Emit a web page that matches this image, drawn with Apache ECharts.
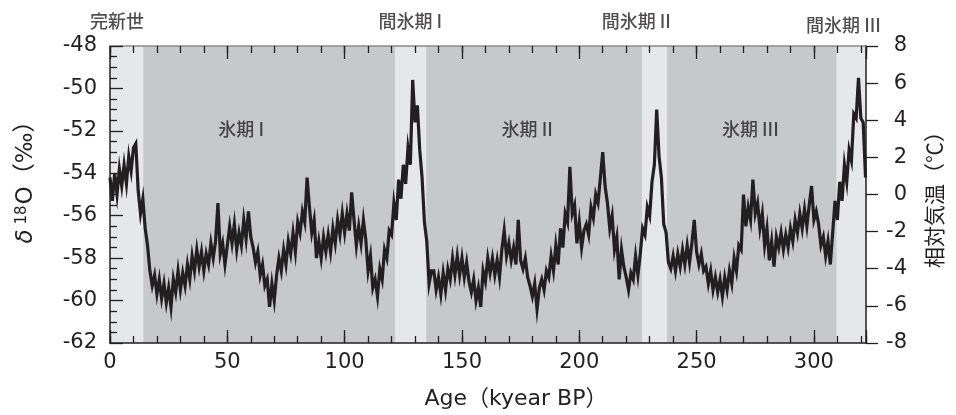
<!DOCTYPE html>
<html>
<head>
<meta charset="utf-8">
<script src="https://cdn.jsdelivr.net/npm/echarts@6/dist/echarts.min.js"></script>
<style>
  html, body { margin: 0; padding: 0; background: #fff; }
  #chart { width: 956px; height: 415px; }
</style>
</head>
<body>
<div id="chart"></div>
<script>
// δ18O (‰), one value per kyr from 0 kyear BP
const d18O = [
  -54.2, -55.3, -54.0, -55.0, -53.8, -54.6, -53.6, -54.5, -53.2, -53.9,
  -52.8, -52.6, -54.8, -55.9, -55.2, -56.6, -57.4, -58.6, -59.3, -58.8,
  -59.7, -59.0, -59.9, -59.2, -60.1, -59.4, -60.3, -59.0, -59.6, -58.6,
  -59.5, -58.7, -59.3, -58.3, -59.0, -57.9, -58.6, -57.6, -58.4, -57.7,
  -58.6, -57.8, -58.3, -57.3, -58.0, -57.2, -55.4, -57.8, -57.3, -58.3,
  -57.4, -56.5, -57.3, -56.4, -57.6, -56.8, -57.4, -56.2, -57.1, -55.8,
  -57.0, -57.5, -58.2, -57.7, -58.8, -58.3, -59.3, -59.0, -60.3, -59.2,
  -60.0, -58.8, -58.0, -58.6, -57.6, -58.3, -57.2, -57.8, -56.8, -57.7,
  -56.3, -56.8, -55.8, -56.3, -54.2, -55.6, -56.8, -56.2, -58.0, -57.2,
  -58.0, -57.0, -57.7, -56.9, -57.7, -56.6, -57.3, -56.2, -56.9, -55.9,
  -56.8, -55.9, -56.7, -54.9, -56.2, -57.4, -56.5, -57.3, -56.2, -57.1,
  -58.6, -57.9, -59.4, -59.0, -59.8, -58.5, -59.0, -57.6, -58.0, -56.7,
  -56.9, -55.4, -56.2, -54.3, -55.2, -53.6, -54.5, -52.8, -53.6, -49.6,
  -51.6, -50.8, -52.9, -54.2, -56.3, -57.2, -59.2, -58.6, -58.6, -59.5,
  -58.9, -59.7, -58.7, -59.5, -58.5, -59.0, -58.0, -58.8, -57.9, -58.8,
  -58.0, -58.9, -58.2, -59.1, -59.6, -59.0, -60.0, -59.4, -60.3, -58.6,
  -59.1, -58.0, -58.7, -58.0, -58.8, -58.1, -58.9, -57.6, -56.7, -57.9,
  -57.3, -58.1, -57.5, -58.3, -56.2, -58.1, -58.5, -58.0, -58.9, -59.3,
  -59.8, -59.2, -60.4, -59.4, -59.0, -59.5, -58.6, -58.9, -57.9, -58.6,
  -57.4, -58.3, -56.6, -57.5, -55.9, -56.3, -53.7, -55.9, -55.5, -57.3,
  -56.3, -57.5, -56.7, -56.4, -56.9, -55.6, -56.1, -55.0, -55.4, -54.2,
  -53.0, -54.6, -55.4, -56.6, -56.0, -57.6, -57.0, -59.0, -57.6, -58.4,
  -58.9, -59.5, -58.7, -59.0, -57.9, -58.8, -57.8, -56.6, -56.9, -55.6,
  -56.0, -54.4, -53.6, -51.0, -53.2, -54.2, -56.4, -56.8, -58.2, -58.5,
  -57.9, -58.6, -57.8, -58.4, -57.6, -58.3, -57.4, -58.2, -57.3, -56.2,
  -57.7, -58.3, -57.8, -58.6, -58.4, -59.2, -58.6, -59.5, -58.9, -59.6,
  -59.0, -59.8, -58.9, -59.5, -58.6, -59.2, -58.0, -58.6, -57.4, -57.6,
  -55.0, -56.5, -55.6, -56.2, -54.3, -55.9, -55.4, -56.6, -55.9, -57.4,
  -56.6, -58.1, -57.2, -58.4, -57.0, -57.5, -56.8, -57.6, -56.9, -57.5,
  -56.6, -57.2, -56.2, -56.8, -55.9, -56.6, -55.7, -56.5, -55.5, -54.6,
  -56.2, -55.8, -56.4, -57.4, -57.0, -57.9, -57.2, -58.3, -56.8, -55.3,
  -56.2, -54.4, -55.3, -53.6, -54.4, -52.9, -53.4, -51.2, -51.4, -49.5,
  -51.4, -51.6, -54.2
];
const ageMax = 322.2;

// interglacial bands (kyear BP)
const interglacials = [[0, 14.2], [121.5, 134.8], [226.7, 237.4], [309.6, 322.2]];

// period names and where they sit [kyear BP, δ18O]
const periodNames = ['完新世', '間氷期 I', '間氷期 II', '間氷期 III', '氷期 I', '氷期 II', '氷期 III'];
const periodAt = [[3, -46.85], [128, -46.85], [224.3, -46.85], [312.6, -47.0], [55.9, -51.9], [177.8, -51.9], [272.9, -51.9]];

const ink = '#231f20';
const numFont = 'DejaVu Sans';
const jpFont = 'Noto Sans CJK JP';

const chart = echarts.init(document.getElementById('chart'));

const tickX = (pos, interval, len, lineColor) => ({
  type: 'value',
  position: pos,
  min: 0,
  max: ageMax,
  interval: interval,
  z: 5,
  axisLine: { show: lineColor != null, onZero: false, lineStyle: { color: lineColor || ink, width: 1.5 } },
  axisTick: { show: true, inside: true, length: len, lineStyle: { color: ink, width: 1.3 } },
  axisLabel: { show: false },
  splitLine: { show: false }
});

const bottomX = tickX('bottom', 10, 7, ink);
bottomX.axisLabel = {
  show: true,
  margin: 9,
  color: ink,
  fontFamily: numFont,
  fontSize: 21,
  formatter: v => (v % 50 === 0 ? String(v) : '')
};
bottomX.name = 'Age（kyear BP）';
bottomX.nameLocation = 'middle';
bottomX.nameGap = 45;
bottomX.nameTextStyle = { color: ink, fontFamily: numFont + ', ' + jpFont, fontSize: 22, padding: [0, 0, 0, 56] };

chart.setOption({
  animation: false,
  grid: {
    left: 110, top: 46, width: 756, height: 299.5,
    show: true, backgroundColor: '#c7c8ca', borderWidth: 0
  },
  xAxis: [
    bottomX,
    tickX('bottom', 50, 13, null),
    tickX('top', 10, 7, '#8a8a8c'),
    tickX('top', 50, 13, null)
  ],
  yAxis: [
    {
      type: 'value',
      position: 'left',
      min: -62, max: -48, interval: 2,
      z: 5,
      axisLine: { show: true, onZero: false, lineStyle: { color: ink, width: 1.5 } },
      axisTick: { show: true, inside: true, length: 13, lineStyle: { color: ink, width: 1.3 } },
      minorTick: { show: true, splitNumber: 4, length: 7, lineStyle: { color: ink, width: 1.3 } },
      axisLabel: { color: ink, fontFamily: numFont, fontSize: 21, margin: 13 },
      splitLine: { show: false },
      name: '{d|δ}{s|18}{o|O（‰）}',
      nameLocation: 'middle',
      nameGap: 72,
      nameTextStyle: {
        padding: [0, 0, 0, 36],
        rich: {
          d: { fontFamily: numFont, fontStyle: 'italic', fontSize: 23, color: ink },
          s: { fontFamily: numFont, fontSize: 15, color: ink, verticalAlign: 'top', padding: [0, 1, 0, 5] },
          o: { fontFamily: numFont + ', ' + jpFont, fontSize: 23, color: ink }
        }
      }
    },
    {
      type: 'value',
      position: 'right',
      min: -8, max: 8, interval: 2,
      z: 5,
      axisLine: { show: true, onZero: false, lineStyle: { color: ink, width: 1.5 } },
      axisTick: { show: true, inside: false, length: 12, lineStyle: { color: ink, width: 1.3 } },
      axisLabel: { color: ink, fontFamily: numFont, fontSize: 21, margin: 41, align: 'right' },
      splitLine: { show: false },
      name: '相対気温（℃）',
      nameLocation: 'middle',
      nameGap: 58,
      nameTextStyle: { color: ink, fontFamily: jpFont, fontSize: 21 }
    }
  ],
  series: [
    {
      type: 'line',
      xAxisIndex: 0,
      yAxisIndex: 0,
      data: d18O.map((v, i) => [i, v]),
      symbol: 'none',
      lineStyle: { color: ink, width: 3.2, join: 'miter' },
      z: 3,
      markArea: {
        silent: true,
        itemStyle: { color: '#e6e7e8' },
        data: interglacials.map(b => [{ xAxis: b[0] }, { xAxis: b[1] }])
      }
    },
    {
      type: 'scatter',
      xAxisIndex: 0,
      yAxisIndex: 0,
      clip: false,
      symbolSize: 1,
      itemStyle: { color: 'rgba(0,0,0,0)' },
      silent: true,
      data: periodAt.map((p, i) => ({ value: p, name: periodNames[i] })),
      label: {
        show: true,
        position: 'inside',
        formatter: p => p.name,
        color: ink,
        fontFamily: jpFont,
        fontWeight: 500,
        fontSize: 18
      },
      z: 6
    }
  ]
});
</script>
</body>
</html>
